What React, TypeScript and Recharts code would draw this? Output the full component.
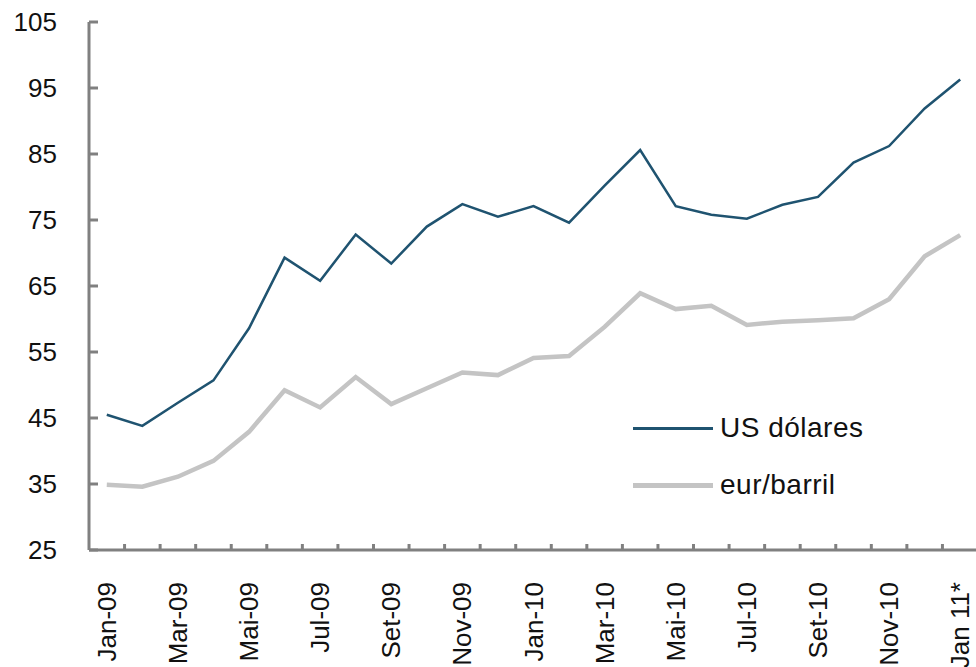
import React from "react";
import { LineChart, Line, XAxis, YAxis } from "recharts";

const months = [
  "Jan-09", "Fev-09", "Mar-09", "Abr-09", "Mai-09", "Jun-09", "Jul-09", "Ago-09",
  "Set-09", "Out-09", "Nov-09", "Dez-09", "Jan-10", "Fev-10", "Mar-10", "Abr-10",
  "Mai-10", "Jun-10", "Jul-10", "Ago-10", "Set-10", "Out-10", "Nov-10", "Dez-10",
  "Jan 11*",
];

const usd = [
  45.5, 43.8, 47.3, 50.7, 58.6, 69.3, 65.8, 72.8, 68.4, 74.0, 77.4, 75.5, 77.1,
  74.6, 80.2, 85.6, 77.1, 75.8, 75.2, 77.3, 78.5, 83.7, 86.2, 91.9, 96.3,
];

const eur = [
  34.9, 34.6, 36.1, 38.5, 42.9, 49.2, 46.6, 51.2, 47.1, 49.5, 51.9, 51.5, 54.1,
  54.4, 58.8, 63.9, 61.5, 62.0, 59.1, 59.6, 59.8, 60.1, 63.0, 69.5, 72.7,
];

const yTicks = [25, 35, 45, 55, 65, 75, 85, 95, 105];

const data = months.map((m, i) => ({ month: m, usd: usd[i], eur: eur[i] }));

const FONT = "'Liberation Sans', Arial, sans-serif";
const AXIS = "#808080";
const NAVY = "#1f5370";
const GREY = "#c4c4c4";
const STEP = 35.56;

const XTick = (props: any) => {
  const { x, y, payload, index } = props;
  return (
    <g>
      <line x1={x + STEP / 2} x2={x + STEP / 2} y1={y - 6} y2={y} stroke={AXIS} strokeWidth={3} />
      {index % 2 === 0 && (
        <text
          x={x}
          y={y + 32}
          transform={`rotate(-90, ${x}, ${y + 32})`}
          textAnchor="end"
          dy="0.35em"
          fontFamily={FONT}
          fontSize={26}
          fill="#111"
        >
          {payload.value}
        </text>
      )}
    </g>
  );
};

const YTick = (props: any) => {
  const { x, y, payload } = props;
  return (
    <g>
      <line x1={x} x2={x + 9} y1={y} y2={y} stroke={AXIS} strokeWidth={3} />
      <text x={x - 32} y={y} dy="0.35em" textAnchor="end" fontFamily={FONT} fontSize={26} fill="#111">
        {payload.value}
      </text>
    </g>
  );
};

// legend drawn beside the chart so it does not eat plot height
const LegendBox = () => (
  <div style={{ position: "absolute", left: 633, top: 410, fontFamily: FONT, fontSize: 28, color: "#111", letterSpacing: 0.5 }}>
    <div style={{ display: "flex", alignItems: "center", height: 36 }}>
      <div style={{ width: 80, height: 3, background: NAVY, marginRight: 7 }} />
      <span>US dólares</span>
    </div>
    <div style={{ display: "flex", alignItems: "center", height: 36, marginTop: 21 }}>
      <div style={{ width: 80, height: 5, background: GREY, marginRight: 7 }} />
      <span>eur/barril</span>
    </div>
  </div>
);

export default function App() {
  return (
    <div style={{ position: "absolute", left: 0, top: 0, width: 976, height: 667, overflow: "hidden", background: "#fff" }}>
      <LineChart width={980} height={667} data={data} margin={{ top: 22, right: 2, bottom: 0, left: 0 }}>
        <XAxis
          dataKey="month"
          interval={0}
          padding={{ left: STEP / 2, right: STEP / 2 }}
          height={117}
          tickSize={0}
          tickMargin={0}
          tickLine={false}
          axisLine={{ stroke: AXIS, strokeWidth: 3 }}
          tick={(p: any) => <XTick {...p} />}
        />
        <YAxis
          domain={[25, 105]}
          ticks={yTicks}
          interval={0}
          width={89}
          tickSize={0}
          tickMargin={0}
          tickLine={false}
          axisLine={{ stroke: AXIS, strokeWidth: 3 }}
          tick={(p: any) => <YTick {...p} />}
        />
        <Line
          dataKey="usd"
          name="US dólares"
          stroke={NAVY}
          strokeWidth={2.5}
          dot={false}
          isAnimationActive={false}
        />
        <Line
          dataKey="eur"
          name="eur/barril"
          stroke={GREY}
          strokeWidth={4.5}
          dot={false}
          isAnimationActive={false}
        />
      </LineChart>
      <LegendBox />
    </div>
  );
}
